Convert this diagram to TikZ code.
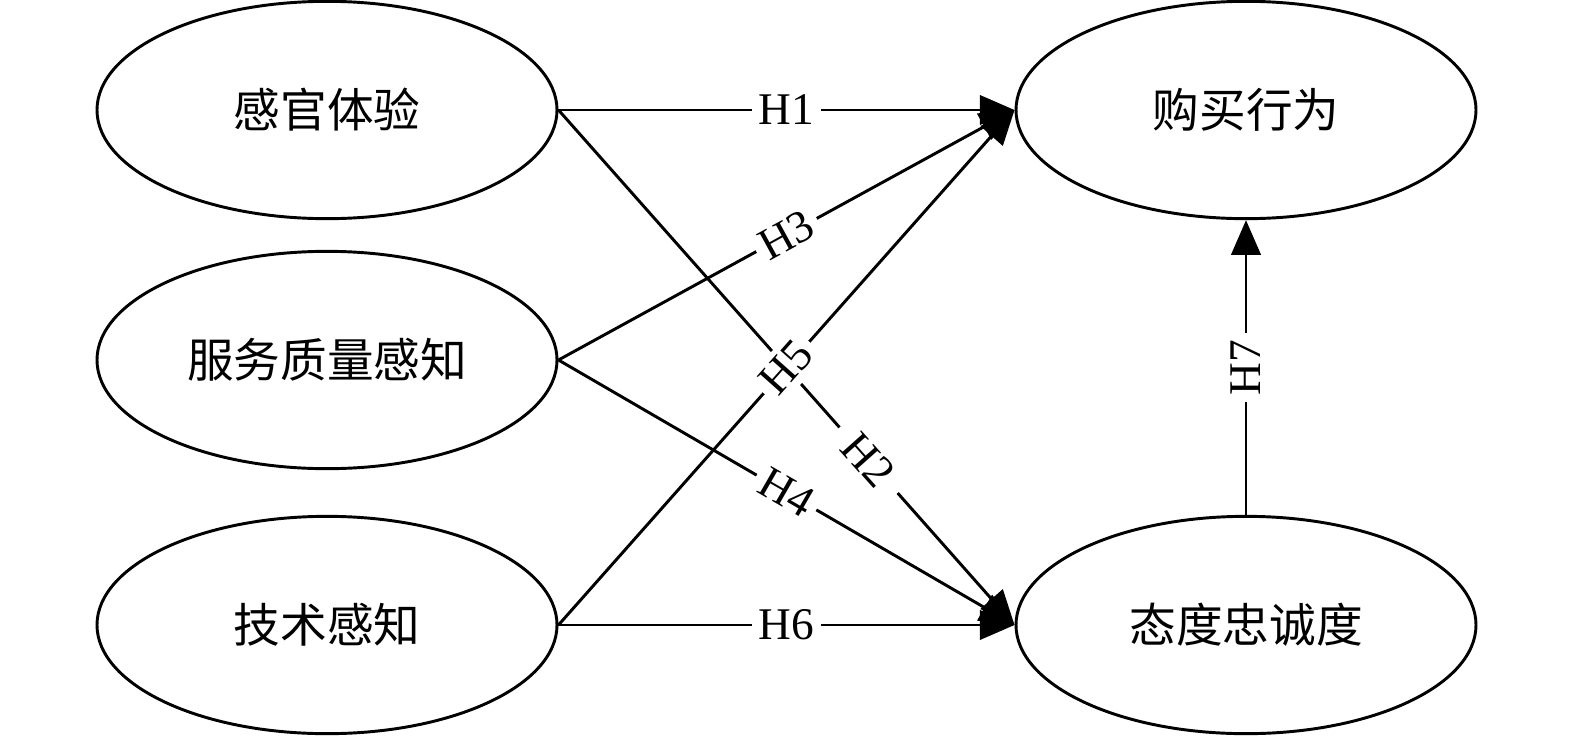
\documentclass[tikz,border=0pt]{standalone}
\usepackage{fontspec}
\setmainfont{Liberation Serif}
\newfontfamily\cjk{Noto Sans CJK SC}
\usetikzlibrary{shapes.geometric, arrows.meta}

\begin{document}
\begin{tikzpicture}[x=0.75pt,y=0.75pt,yscale=-1,xscale=1,
    construct/.style={draw, ellipse, line width=2.2pt, minimum width=345pt, minimum height=163pt, inner sep=0pt, font=\cjk\fontsize{35}{40}\selectfont},
    hypo/.style={line width=2.2pt, -{Triangle[length=26pt,width=22pt]}},
    hlabel/.style={fill=white, inner sep=5pt, font=\fontsize{34}{40}\selectfont}]
    %set diagram left start at 0, and has height of 736
    \useasboundingbox (0,0) rectangle (1575,736);

    %Shape: Ellipse
    \node [construct] (ganguan) at (327,110) {感官体验};
    %Shape: Ellipse
    \node [construct] (fuwu) at (327,360) {服务质量感知};
    %Shape: Ellipse
    \node [construct] (jishu) at (327,625) {技术感知};
    %Shape: Ellipse
    \node [construct] (goumai) at (1246,110) {购买行为};
    %Shape: Ellipse
    \node [construct] (taidu) at (1246,625) {态度忠诚度};

    %Straight Lines
    \draw [hypo] (ganguan.east) -- (goumai.west) node [hlabel, pos=0.5] {H1};
    %Straight Lines
    \draw [hypo] (ganguan.east) -- (taidu.west) node [hlabel, pos=0.68, rotate=-48.3, inner xsep=12pt] {H2};
    %Straight Lines
    \draw [hypo] (fuwu.east) -- (goumai.west) node [hlabel, pos=0.5, rotate=28.6] {H3};
    %Straight Lines
    \draw [hypo] (fuwu.east) -- (taidu.west) node [hlabel, pos=0.5, rotate=-30] {H4};
    %Straight Lines
    \draw [hypo] (jishu.east) -- (goumai.west) node [hlabel, pos=0.5, rotate=48.3] {H5};
    %Straight Lines
    \draw [hypo] (jishu.east) -- (taidu.west) node [hlabel, pos=0.5] {H6};
    %Straight Lines
    \draw [hypo] (taidu.north) -- (goumai.south) node [hlabel, pos=0.5, rotate=90] {H7};

\end{tikzpicture}
\end{document}
